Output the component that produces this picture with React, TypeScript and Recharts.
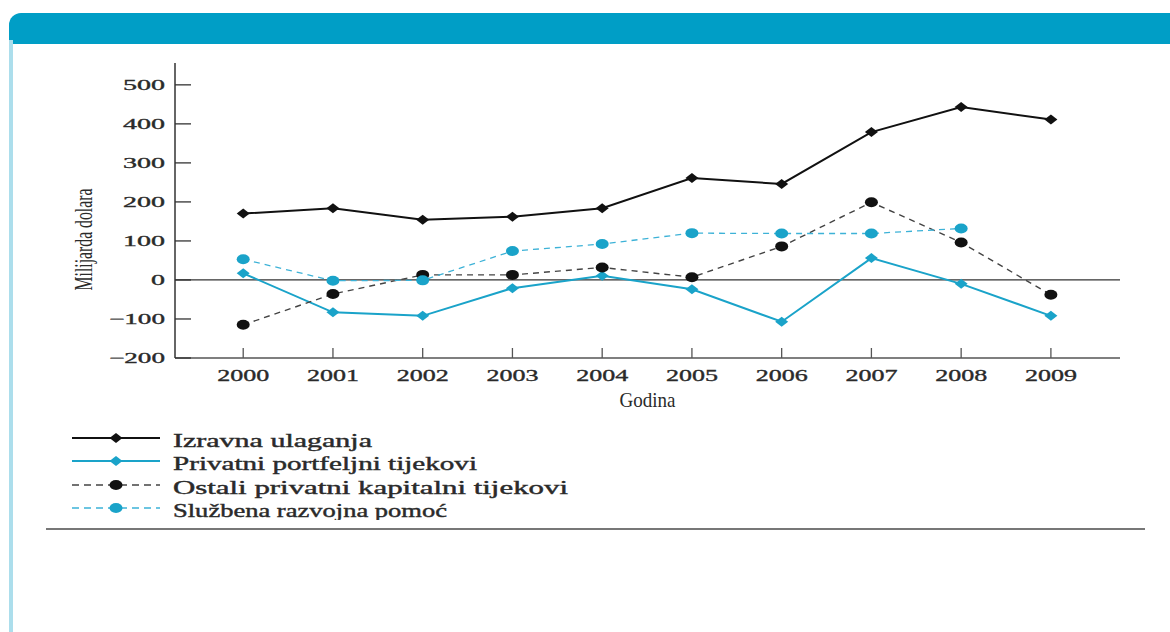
import { Line, LineChart, ReferenceLine, XAxis, YAxis } from "recharts";

const years = [2000, 2001, 2002, 2003, 2004, 2005, 2006, 2007, 2008, 2009];
const izravnaUlaganja = [170, 184, 154, 162, 184, 261, 246, 379, 443, 411];
const portfeljniTijekovi = [17, -83, -92, -21, 11, -24, -107, 56, -10, -92];
const ostaliKapitalni = [-115, -36, 13, 13, 32, 7, 86, 199, 96, -38];
const sluzbenaPomoc: (number | null)[] = [53, -2, -1, 74, 92, 120, 119, 119, 132, null];
const yTicks = [-200, -100, 0, 100, 200, 300, 400, 500];

const SERIF = "'Liberation Serif', 'Times New Roman', serif";
const BLUE = "#1aa3c9";
const INK = "#2a2a2a";

type SeriesDef = {
  key: string;
  label: string;
  color: string;
  width: number;
  dash?: string;
  marker: "diamond" | "circle";
  markerColor: string;
  textWidth: number;
};

const series: SeriesDef[] = [
  { key: "izravna", label: "Izravna ulaganja", color: "#111", width: 2, marker: "diamond", markerColor: "#111", textWidth: 199 },
  { key: "portfelj", label: "Privatni portfeljni tijekovi", color: BLUE, width: 2, marker: "diamond", markerColor: BLUE, textWidth: 304 },
  { key: "ostali", label: "Ostali privatni kapitalni tijekovi", color: "#444", width: 1.4, dash: "6 5", marker: "circle", markerColor: "#111", textWidth: 395 },
  { key: "sluzbena", label: "Službena razvojna pomoć", color: "#3db2d7", width: 1.3, dash: "6 5", marker: "circle", markerColor: BLUE, textWidth: 274 },
];

const data = years.map((year, i) => ({
  year,
  izravna: izravnaUlaganja[i],
  portfelj: portfeljniTijekovi[i],
  ostali: ostaliKapitalni[i],
  sluzbena: sluzbenaPomoc[i],
}));

function Marker({ kind, cx, cy, color }: { kind: "diamond" | "circle"; cx: number; cy: number; color: string }) {
  if (kind === "diamond") {
    return <path d={`M${cx - 6.5},${cy} L${cx},${cy - 5} L${cx + 6.5},${cy} L${cx},${cy + 5} Z`} fill={color} />;
  }
  return <ellipse cx={cx} cy={cy} rx={6.5} ry={5} fill={color} />;
}

function dotFor(s: SeriesDef) {
  return (p: any) => {
    if (p.cx == null || p.cy == null || p.value == null) return <g key={p.index} />;
    return <Marker key={p.index} kind={s.marker} cx={p.cx} cy={p.cy} color={s.markerColor} />;
  };
}

function YTick(props: any) {
  const { x, y, payload } = props;
  const v: number = payload.value;
  const txt = v < 0 ? `\u2212${Math.abs(v)}` : String(v);
  return (
    <g>
      <line x1={x + 10} x2={x + 26} y1={y} y2={y} stroke="#333" strokeWidth={1.3} />
      <text
        x={x}
        y={y}
        textAnchor="end"
        dominantBaseline="central"
        fontFamily={SERIF}
        fontSize={15}
        fill={INK}
        stroke={INK}
        strokeWidth={0.35}
        textLength={txt.length * 14}
        lengthAdjust="spacingAndGlyphs"
      >
        {txt}
      </text>
    </g>
  );
}

function XTick(props: any) {
  const { x, y, payload } = props;
  return (
    <g>
      <line x1={x} x2={x} y1={y - 17} y2={y - 27} stroke="#555" strokeWidth={1.3} />
      <text
        x={x}
        y={y}
        textAnchor="middle"
        dominantBaseline="central"
        fontFamily={SERIF}
        fontSize={16}
        fill={INK}
        stroke={INK}
        strokeWidth={0.35}
        textLength={52}
        lengthAdjust="spacingAndGlyphs"
      >
        {payload.value}
      </text>
    </g>
  );
}

function ChartLegend() {
  const rowY = [438, 461, 485, 508];
  return (
    <svg width={600} height={100} style={{ position: "absolute", left: 0, top: 420 }} viewBox="0 420 600 100">
      {series.map((s, i) => {
        const y = rowY[i];
        return (
          <g key={s.key}>
            <line
              x1={72}
              x2={160}
              y1={y}
              y2={y}
              stroke={s.color}
              strokeWidth={s.dash ? 1.3 : 2}
              strokeDasharray={s.dash ? "7 5" : undefined}
            />
            <Marker kind={s.marker} cx={116} cy={y} color={s.markerColor} />
            <text
              x={173}
              y={y + 3}
              dominantBaseline="central"
              fontFamily={SERIF}
              fontSize={18}
              fill={INK}
              stroke={INK}
              strokeWidth={0.4}
              textLength={s.textWidth}
              lengthAdjust="spacingAndGlyphs"
            >
              {s.label}
            </text>
          </g>
        );
      })}
    </svg>
  );
}

export default function App() {
  return (
    <div style={{ position: "absolute", left: 0, top: 0, width: 1170, height: 632, background: "#fff", overflow: "hidden" }}>
      {/* okvir s plavom trakom */}
      <div style={{ position: "absolute", left: 9, top: 13, width: 1200, height: 31, background: "#009ec6", borderTopLeftRadius: 12 }} />
      <div style={{ position: "absolute", left: 9, top: 40, width: 4, height: 600, background: "#acdeec" }} />
      <div style={{ position: "absolute", left: 46, top: 528, width: 1099, height: 2, background: "#777" }} />

      <div style={{ position: "absolute", left: 0, top: 0 }}>
        <LineChart width={1170} height={632} data={data} margin={{ top: 63, right: 50, left: 65, bottom: 224 }}>
          <XAxis
            dataKey="year"
            type="number"
            domain={[1999.24, 2009.77]}
            ticks={years}
            allowDataOverflow
            height={50}
            tickSize={0}
            tickMargin={17}
            tickLine={false}
            axisLine={{ stroke: "#555", strokeWidth: 1.5 }}
            tick={<XTick />}
            label={{
              content: (p: any) => {
                const vb = p.viewBox;
                return (
                  <text
                    x={vb.x + vb.width / 2}
                    y={vb.y + 42}
                    textAnchor="middle"
                    dominantBaseline="central"
                    fontFamily={SERIF}
                    fontSize={21}
                    fill={INK}
                    textLength={56}
                    lengthAdjust="spacingAndGlyphs"
                  >
                    Godina
                  </text>
                );
              },
            }}
          />
          <YAxis
            type="number"
            domain={[-200, 556]}
            ticks={yTicks}
            allowDataOverflow
            width={110}
            tickSize={0}
            tickMargin={10}
            tickLine={false}
            axisLine={{ stroke: "#333", strokeWidth: 1.5 }}
            tick={<YTick />}
            label={{
              content: (p: any) => {
                const vb = p.viewBox;
                const cx = vb.x + 18;
                const cy = vb.y + vb.height / 2 + 29;
                return (
                  <text
                    x={cx}
                    y={cy}
                    transform={`rotate(-90 ${cx} ${cy})`}
                    textAnchor="middle"
                    dominantBaseline="central"
                    fontFamily={SERIF}
                    fontSize={26}
                    fill={INK}
                    textLength={102}
                    lengthAdjust="spacingAndGlyphs"
                  >
                    Milijarda dolara
                  </text>
                );
              },
            }}
          />
          <ReferenceLine y={0} stroke="#333" strokeWidth={1.3} />
          {series.map((s) => (
            <Line
              key={s.key}
              dataKey={s.key}
              name={s.label}
              stroke={s.color}
              strokeWidth={s.width}
              strokeDasharray={s.dash}
              dot={dotFor(s)}
              activeDot={false}
              connectNulls={false}
              isAnimationActive={false}
              type="linear"
            />
          ))}
        </LineChart>
      </div>

      <ChartLegend />
    </div>
  );
}
